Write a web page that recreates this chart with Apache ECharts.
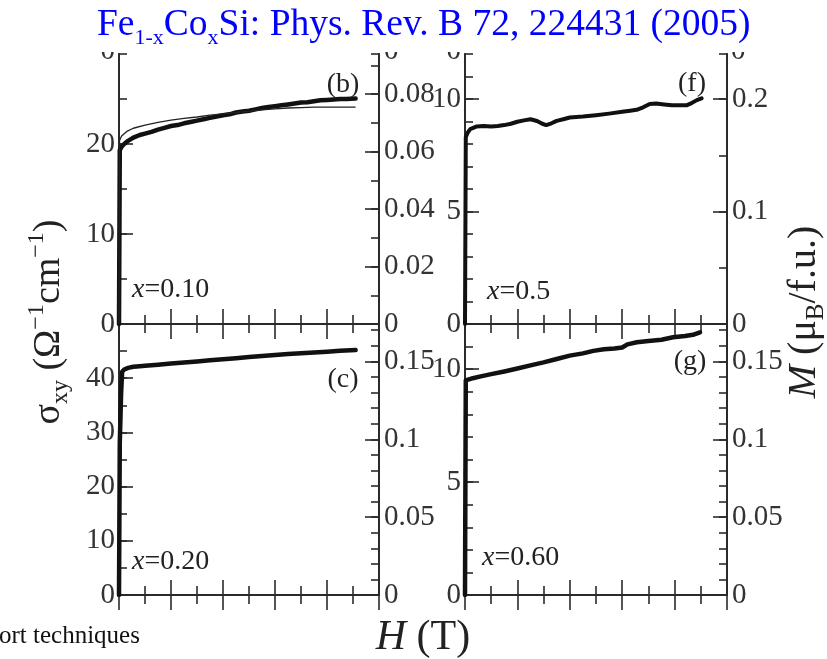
<!DOCTYPE html>
<html><head><meta charset="utf-8">
<script src="https://cdn.jsdelivr.net/npm/echarts@6/dist/echarts.min.js"></script>
<style>html,body{margin:0;padding:0;background:#fff}#c{width:827px;height:659px}</style>
</head><body><div id="c"></div>
<script>
// ---- data ----
// panel (b) x=0.10 : sigma_xy data (thick) and M curve (thin)
const H_b = [0, 0.03, 0.1, 0.2, 0.35, 0.55, 0.8, 1.0, 1.25, 1.5, 1.75, 2.0, 2.25, 2.5, 2.75, 3.0, 3.25, 3.5, 3.75, 4.0, 4.25, 4.5, 4.75, 5.0, 5.25, 5.5, 5.75, 6.0, 6.25, 6.5, 6.75, 7.0, 7.25, 7.5, 7.75, 8.0, 8.25, 8.5, 8.75, 9.1];
const S_b = [0, 19.3, 19.7, 20.0, 20.35, 20.7, 21.0, 21.15, 21.35, 21.6, 21.8, 22.0, 22.1, 22.3, 22.45, 22.6, 22.75, 22.9, 23.05, 23.2, 23.3, 23.5, 23.6, 23.7, 23.85, 24.0, 24.1, 24.2, 24.3, 24.4, 24.5, 24.6, 24.65, 24.75, 24.85, 24.9, 24.95, 25.0, 25.0, 25.05];
const H_bM = [0, 0.02, 0.1, 0.3, 0.55, 1, 1.5, 2, 2.5, 3, 3.5, 4, 4.5, 5, 5.5, 6, 6.5, 7, 7.5, 8, 8.5, 9.1];
const S_bM = [0, 20.4, 20.9, 21.4, 21.75, 22.1, 22.4, 22.65, 22.85, 23.0, 23.2, 23.35, 23.5, 23.65, 23.8, 23.9, 24.0, 24.05, 24.1, 24.1, 24.1, 24.1];
// panel (c) x=0.20
const H_c = [0, 0.03, 0.08, 0.12, 0.2, 0.35, 0.55, 0.8, 1.0, 1.5, 2.0, 2.5, 3.0, 3.5, 4.0, 4.5, 5.0, 5.5, 6.0, 6.5, 7.0, 7.5, 8.0, 8.5, 9.1];
const S_c = [0, 28, 37, 41.2, 41.6, 41.9, 42.1, 42.2, 42.3, 42.5, 42.7, 42.9, 43.1, 43.3, 43.5, 43.7, 43.9, 44.1, 44.3, 44.45, 44.6, 44.75, 44.9, 45.05, 45.2];
// panel (f) x=0.5
const H_f = [0, 0.03, 0.1, 0.2, 0.45, 0.7, 1.0, 1.25, 1.5, 1.75, 2.0, 2.25, 2.5, 2.75, 2.95, 3.1, 3.3, 3.5, 3.75, 4.0, 4.5, 5.0, 5.5, 6.0, 6.3, 6.55, 6.8, 7.05, 7.3, 7.6, 7.9, 8.2, 8.45, 8.65, 8.85, 9.03];
const S_f = [0, 8.3, 8.5, 8.66, 8.78, 8.8, 8.78, 8.8, 8.84, 8.9, 8.99, 9.05, 9.1, 9.02, 8.9, 8.84, 8.92, 9.03, 9.1, 9.18, 9.22, 9.28, 9.35, 9.43, 9.48, 9.52, 9.63, 9.78, 9.8, 9.76, 9.72, 9.72, 9.72, 9.82, 9.95, 10.03];
// panel (g) x=0.60
const H_g = [0, 0.03, 0.3, 0.6, 1.0, 1.5, 2.0, 2.5, 3.0, 3.5, 4.0, 4.5, 4.9, 5.3, 5.7, 6.0, 6.2, 6.56, 7.0, 7.5, 7.94, 8.4, 8.7, 8.97];
const S_g = [0, 9.5, 9.6, 9.68, 9.78, 9.9, 10.03, 10.17, 10.3, 10.45, 10.6, 10.7, 10.81, 10.88, 10.92, 10.96, 11.1, 11.19, 11.25, 11.3, 11.41, 11.47, 11.52, 11.63];

// axis ranges (max, labelled step, minor step)
const H_range = [0, 10];
const sigmaAxis = { b: [30, 10, 5], c: [50, 10, 5], f: [12, 5, 1], g: [12, 5, 1] };
const mAxis = { b: [0.094, 0.02, 0.01], c: [0.174, 0.05, 0.01], f: [0.24, 0.1, 0.05], g: [0.174, 0.05, 0.01] };
const panelTags = { b: '(b)', c: '(c)', f: '(f)', g: '(g)' };
const panelX = { b: '0.10', c: '0.20', f: '0.5', g: '0.60' };

// ---- layout ----
const FONT = 'Liberation Serif';
const AX = '#2a2a2a';
const boxes = {
  b: { left: 119, top: 54, width: 260, height: 270 },
  c: { left: 119, top: 324, width: 260, height: 271 },
  f: { left: 465, top: 54, width: 262, height: 270 },
  g: { left: 465, top: 324, width: 262, height: 271 }
};
const order = ['b', 'c', 'f', 'g'];
const grids = [], xAxes = [], yAxes = [], series = [];
const lineSt = { color: AX, width: 1.8 };
const tickSt = { color: AX, width: 1.6 };
const yIndex = {};
order.forEach((k, gi) => {
  grids.push(Object.assign({ containLabel: false }, boxes[k]));
  ['bottom', 'top'].forEach(pos => {
    xAxes.push({
      gridIndex: gi, type: 'value', position: pos, min: H_range[0], max: H_range[1], interval: 2,
      axisLine: { show: true, lineStyle: lineSt },
      axisTick: { show: true, inside: true, length: 15, lineStyle: tickSt },
      minorTick: { show: true, splitNumber: 2, length: 9, lineStyle: tickSt },
      axisLabel: { show: false }, splitLine: { show: false }, minorSplitLine: { show: false }
    });
  });
  const mk = (pos, rng, major) => ({
    gridIndex: gi, type: 'value', position: pos, min: 0, max: rng[0],
    interval: major ? rng[1] : rng[2],
    axisLine: { show: true, lineStyle: lineSt },
    axisTick: { show: true, inside: true, length: major ? 14 : 8, lineStyle: tickSt },
    axisLabel: major ? { show: true, showMaxLabel: false, showMinLabel: true, margin: pos === 'left' ? 4 : 5,
      fontFamily: FONT, fontSize: 29, color: '#333' } : { show: false },
    splitLine: { show: false }
  });
  yIndex[k] = yAxes.length;
  yAxes.push(mk('left', sigmaAxis[k], true));
  yAxes.push(mk('left', sigmaAxis[k], false));
  yAxes.push(mk('right', mAxis[k], true));
  yAxes.push(mk('right', mAxis[k], false));
});
const pair = (H, S) => H.map((h, i) => [h, S[i]]);
const thick = (k, H, S, w) => ({
  type: 'line', xAxisIndex: order.indexOf(k) * 2, yAxisIndex: yIndex[k], data: pair(H, S),
  symbol: 'none', silent: true, animation: false,
  lineStyle: { color: '#111', width: w, join: 'round', cap: 'round' }
});
series.push(thick('b', H_b, S_b, 4.5));
series.push(Object.assign(thick('b', H_bM, S_bM, 1.3), { lineStyle: { color: '#222', width: 1.3 }, z: 3 }));
series.push(thick('c', H_c, S_c, 4.5));
series.push(thick('f', H_f, S_f, 4));
series.push(thick('g', H_g, S_g, 4.5));

// ---- texts ----
const txt = (x, y, text, size, extra) => ({
  type: 'text', x: x, y: y, z: 20,
  style: Object.assign({ text: text, fontFamily: FONT, fontSize: size, fill: '#222', align: 'center', verticalAlign: 'middle' }, extra || {})
});
const tagPos = { b: [343, 85], c: [343, 380], f: [692, 84], g: [690, 362] };
const xPos = { b: [132, 290], c: [132, 562], f: [487, 292], g: [482, 558] };
const graphic = [];
order.forEach(k => {
  graphic.push(txt(tagPos[k][0], tagPos[k][1], panelTags[k], 28));
  graphic.push({
    type: 'text', x: xPos[k][0], y: xPos[k][1], z: 20,
    style: { text: '{i|x}=' + panelX[k], fontFamily: FONT, fontSize: 28, fill: '#222', align: 'left', verticalAlign: 'middle',
      rich: { i: { fontFamily: FONT, fontSize: 28, fontStyle: 'italic', fill: '#222' } } }
  });
});
// cut labels of the panels above (hidden by the title band)
[[115, 'right'], [384, 'left'], [461, 'right'], [731, 'left']].forEach(p => {
  graphic.push({ type: 'text', x: p[0], y: 51, z: 10,
    style: { text: '0', fontFamily: FONT, fontSize: 29, fill: '#333', align: p[1], verticalAlign: 'middle' } });
});
graphic.push({ type: 'rect', z: 30, shape: { x: 0, y: 0, width: 827, height: 52 }, style: { fill: '#fff' } });
// title
graphic.push({
  type: 'text', x: 97, y: 1, z: 40,
  style: {
    text: '{m|Fe}{s|1-x}{m|Co}{s|x}{m|Si: Phys. Rev. B 72, 224431 (2005)}',
    fontFamily: FONT, fill: '#0000ff', align: 'left', verticalAlign: 'top',
    rich: {
      m: { fontFamily: FONT, fontSize: 37.5, lineHeight: 48, fill: '#0000ff' },
      s: { fontFamily: FONT, fontSize: 22, lineHeight: 22, verticalAlign: 'bottom', fill: '#0000ff' }
    }
  }
});
// left axis name
graphic.push({
  type: 'text', x: 49, y: 322, rotation: Math.PI / 2, z: 20,
  style: {
    text: '{m|σ}{s|xy}{m| (Ω}{p|−1}{m|cm}{p|−1}{m|)}',
    fill: '#222', align: 'center', verticalAlign: 'middle',
    rich: {
      m: { fontFamily: FONT, fontSize: 38, lineHeight: 48, fill: '#222' },
      s: { fontFamily: FONT, fontSize: 24, lineHeight: 24, verticalAlign: 'bottom', fill: '#222' },
      p: { fontFamily: FONT, fontSize: 24, lineHeight: 24, verticalAlign: 'top', fill: '#222' }
    }
  }
});
// right axis name
graphic.push({
  type: 'text', x: 804, y: 312, rotation: Math.PI / 2, z: 20,
  style: {
    text: '{i|M}{m| (μ}{s|B}{m|/f.u.)}',
    fill: '#222', align: 'center', verticalAlign: 'middle',
    rich: {
      i: { fontFamily: FONT, fontSize: 40, fontStyle: 'italic', lineHeight: 50, fill: '#222' },
      m: { fontFamily: FONT, fontSize: 40, lineHeight: 50, fill: '#222' },
      s: { fontFamily: FONT, fontSize: 25, lineHeight: 25, verticalAlign: 'bottom', fill: '#222' }
    }
  }
});
// bottom axis name
graphic.push({
  type: 'text', x: 423, y: 638, z: 20,
  style: {
    text: '{i|H} (T)', fontFamily: FONT, fontSize: 42, fill: '#222', align: 'center', verticalAlign: 'middle',
    rich: { i: { fontFamily: FONT, fontSize: 42, fontStyle: 'italic', fill: '#222' } }
  }
});
graphic.push({ type: 'text', x: -1, y: 636, z: 20,
  style: { text: 'ort techniques', fontFamily: FONT, fontSize: 25, fill: '#111', align: 'left', verticalAlign: 'middle' } });

const chart = echarts.init(document.getElementById('c'), null, { renderer: 'canvas' });
chart.setOption({
  backgroundColor: '#fff', animation: false,
  grid: grids, xAxis: xAxes, yAxis: yAxes, series: series, graphic: graphic
});
</script></body></html>
